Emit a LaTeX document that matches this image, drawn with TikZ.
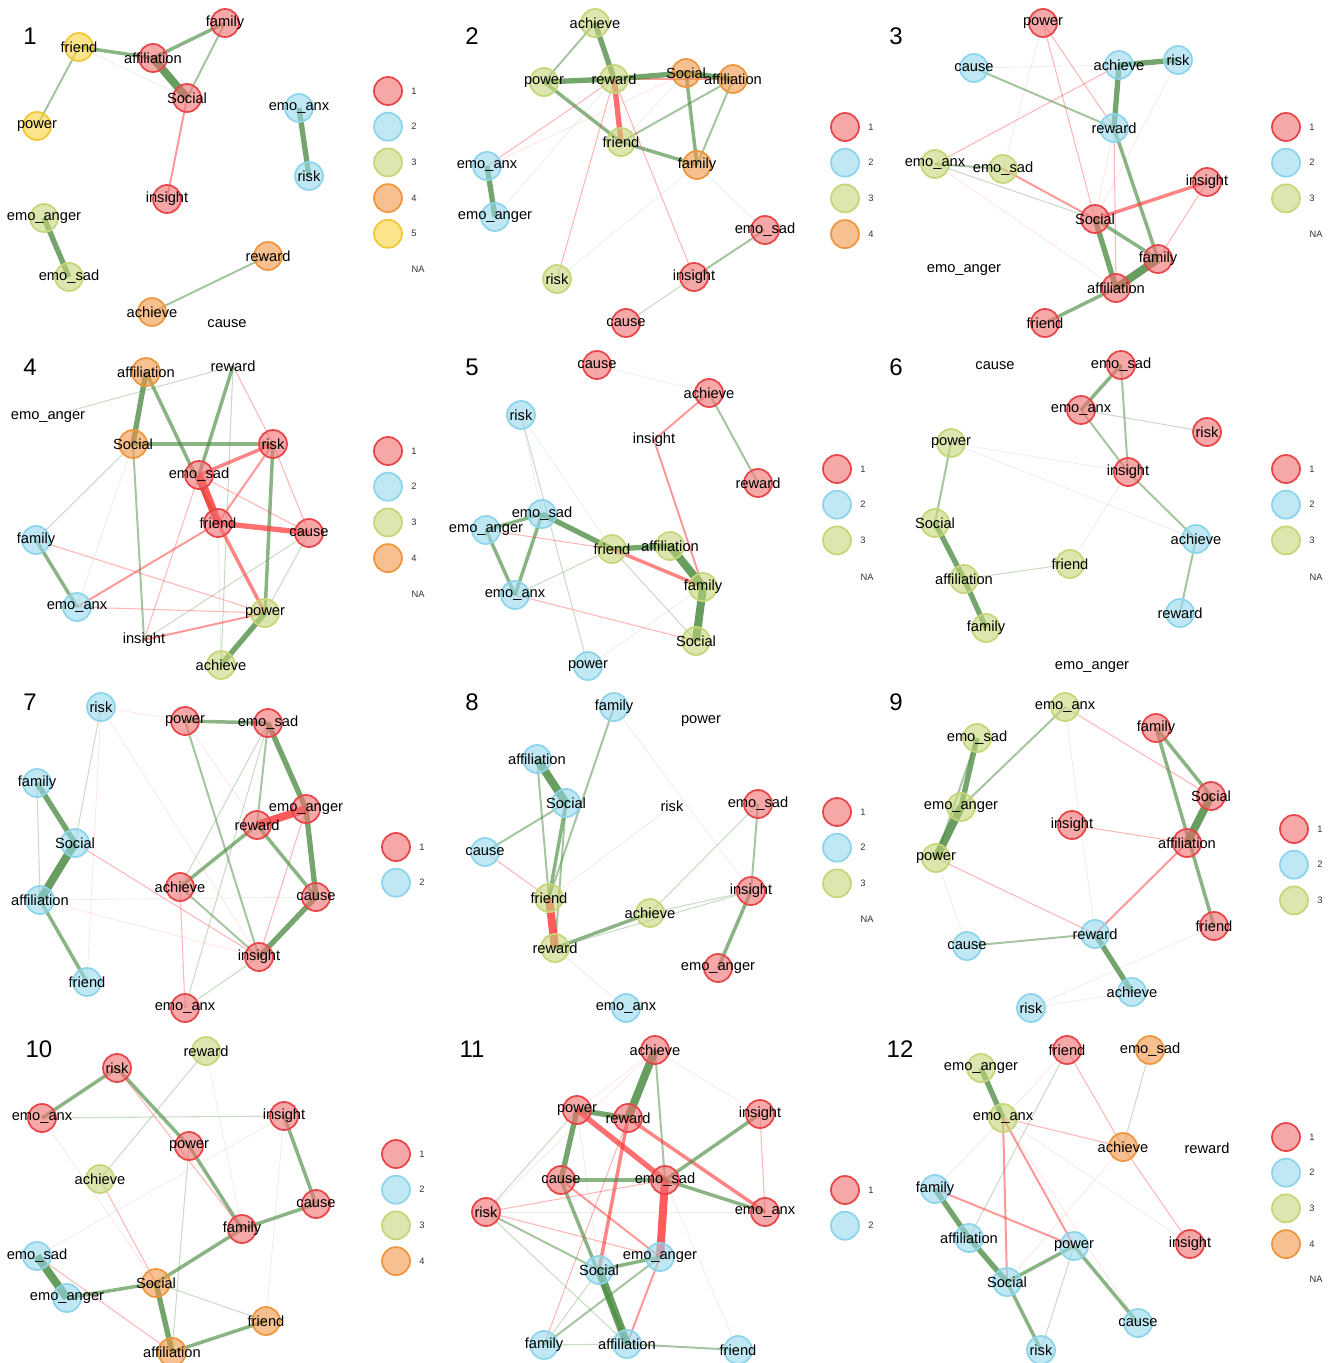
\documentclass[tikz,border=0pt]{standalone}
\usepackage{fontspec}
\setmainfont{Liberation Sans}
\usepackage{tikz}
\usetikzlibrary{backgrounds}
\definecolor{cafill}{RGB}{240,110,112}
\definecolor{caline}{RGB}{232,68,72}
\definecolor{cbfill}{RGB}{150,216,236}
\definecolor{cbline}{RGB}{140,212,235}
\definecolor{ccfill}{RGB}{196,214,120}
\definecolor{ccline}{RGB}{196,214,120}
\definecolor{cdfill}{RGB}{240,150,70}
\definecolor{cdline}{RGB}{238,150,62}
\definecolor{cefill}{RGB}{248,210,60}
\definecolor{celine}{RGB}{242,200,50}
\definecolor{edgegreen}{RGB}{76,140,66}
\definecolor{edgered}{RGB}{255,50,50}
\newcommand{\lbl}[1]{\makebox[0pt]{\expandafter\detokenize\expandafter{#1}}}
\tikzset{
  nd/.style   = {circle, minimum size=21pt, inner sep=0pt, line width=1.3pt, fill opacity=0.6, text opacity=1, font=\fontsize{11}{12}\selectfont},
  c1/.style   = {nd, fill=cafill, draw=caline},
  c2/.style   = {nd, fill=cbfill, draw=cbline},
  c3/.style   = {nd, fill=ccfill, draw=ccline},
  c4/.style   = {nd, fill=cdfill, draw=cdline},
  c5/.style   = {nd, fill=cefill, draw=celine},
  na/.style   = {nd},
  keytxt/.style = {font=\fontsize{7}{8}\selectfont, text=black!80},
  pnum/.style = {font=\fontsize{18}{20}\selectfont},
  g0/.style = {draw=edgegreen, line width=0.5pt, draw opacity=0.15},
  g1/.style = {draw=edgegreen, line width=0.8pt, draw opacity=0.3},
  g2/.style = {draw=edgegreen, line width=1.5pt, draw opacity=0.5},
  g3/.style = {draw=edgegreen, line width=2.6pt, draw opacity=0.65},
  g4/.style = {draw=edgegreen, line width=4pt, draw opacity=0.78},
  g5/.style = {draw=edgegreen, line width=6pt, draw opacity=0.85},
  r0/.style = {draw=edgered, line width=0.5pt, draw opacity=0.15},
  r1/.style = {draw=edgered, line width=0.8pt, draw opacity=0.35},
  r2/.style = {draw=edgered, line width=1.5pt, draw opacity=0.5},
  r3/.style = {draw=edgered, line width=2.6pt, draw opacity=0.6},
  r4/.style = {draw=edgered, line width=4pt, draw opacity=0.7},
  r5/.style = {draw=edgered, line width=6pt, draw opacity=0.8},
}

\begin{document}
\begin{tikzpicture}[x=0.75pt, y=-0.75pt]
  \useasboundingbox (0,0) rectangle (1332,1363);

  % panel 1
  \begin{scope}[shift={(0,0)}, name prefix=p1-]
    \node[pnum] (num) at (30,36) {1};
    \foreach \nm/\cl/\x/\y in {family/c1/225/23, friend/c5/79/47, affiliation/c1/153/58, Social/c1/187/98, power/c5/37/126, emo_anx/c2/299/108, risk/c2/309/176, insight/c1/167/199, emo_anger/c3/44/218, emo_sad/c3/69/277, reward/c4/268/256, achieve/c4/152/312, cause/na/227/324}
      \node[\cl] (\nm) at (\x,\y) {\lbl\nm};
    \begin{scope}[on background layer]
      \foreach \p/\q/\w in {friend/affiliation/g3, affiliation/family/g3, family/Social/g2, affiliation/Social/g5, friend/Social/g0, friend/power/g2, Social/insight/r2, emo_anx/risk/g4, emo_anger/emo_sad/g4, reward/achieve/g2}
        \draw[\w] (\p.center) -- (\q.center);
    \end{scope}
    \foreach \i in {1,...,5} {\node[c\i] (k\i) at (388,{91+35.7*(\i-1)}) {}; \node[keytxt] (kt\i) at (414,{91+35.7*(\i-1)}) {\i};}
    \node[keytxt] (kna) at (418,269) {NA};
  \end{scope}

  % panel 2
  \begin{scope}[shift={(444,0)}, name prefix=p2-]
    \node[pnum] (num) at (28,36) {2};
    \foreach \nm/\cl/\x/\y in {achieve/c3/151/23, power/c3/100/82, reward/c3/170/79, Social/c4/242/73, affiliation/c4/289/79, friend/c3/177/142, family/c4/253/165, emo_anx/c2/43/166, emo_anger/c2/51/217, emo_sad/c1/321/230, insight/c1/250/277, risk/c3/113/279, cause/c1/182/323}
      \node[\cl] (\nm) at (\x,\y) {\lbl\nm};
    \begin{scope}[on background layer]
      \foreach \p/\q/\w in {achieve/reward/g4, achieve/power/g2, power/reward/g4, reward/affiliation/r2, reward/Social/g4, Social/affiliation/g4, reward/friend/r4, power/friend/g3, friend/family/g3, Social/family/g3, affiliation/family/g2, affiliation/friend/g2, Social/friend/g0, reward/emo_anx/r1, Social/emo_anx/r0, reward/emo_anger/g0, emo_anx/emo_anger/g4, reward/risk/r1, reward/insight/r1, family/risk/g0, family/emo_sad/g0, emo_sad/insight/g2, insight/cause/g1}
        \draw[\w] (\p.center) -- (\q.center);
    \end{scope}
    \foreach \i in {1,...,4} {\node[c\i] (k\i) at (401,{127+35.7*(\i-1)}) {}; \node[keytxt] (kt\i) at (427,{127+35.7*(\i-1)}) {\i};}
  \end{scope}

  % panel 3
  \begin{scope}[shift={(888,0)}, name prefix=p3-]
    \node[pnum] (num) at (8,36) {3};
    \foreach \nm/\cl/\x/\y in {power/c1/155/23, cause/c2/86/68, achieve/c2/231/65, risk/c2/290/60, reward/c2/226/128, emo_anx/c3/47/164, emo_sad/c3/115/169, insight/c1/319/182, Social/c1/207/219, family/c1/270/259, affiliation/c1/228/288, friend/c1/157/323, emo_anger/na/76/270}
      \node[\cl] (\nm) at (\x,\y) {\lbl\nm};
    \begin{scope}[on background layer]
      \foreach \p/\q/\w in {achieve/risk/g4, achieve/reward/g4, cause/reward/g2, cause/achieve/g0, power/reward/r1, power/Social/r1, power/emo_sad/r0, achieve/emo_anx/r1, risk/Social/r0, reward/Social/r0, reward/affiliation/r1, reward/family/g3, emo_anx/emo_sad/g2, emo_anx/Social/g1, emo_sad/Social/r2, emo_anx/affiliation/r0, insight/Social/r3, insight/family/r1, Social/family/g3, Social/affiliation/g4, family/affiliation/g5, affiliation/friend/g3}
        \draw[\w] (\p.center) -- (\q.center);
    \end{scope}
    \foreach \i in {1,...,3} {\node[c\i] (k\i) at (398,{127+35.7*(\i-1)}) {}; \node[keytxt] (kt\i) at (424,{127+35.7*(\i-1)}) {\i};}
    \node[keytxt] (kna) at (428,234) {NA};
  \end{scope}

  % panel 4
  \begin{scope}[shift={(0,340)}, name prefix=p4-]
    \node[pnum] (num) at (30,27) {4};
    \foreach \nm/\cl/\x/\y in {affiliation/c4/146/32, reward/na/233/26, emo_anger/na/48/77, Social/c4/133/104, risk/c1/273/104, emo_sad/c1/199/135, friend/c1/218/183, cause/c1/309/193, family/c2/36/200, emo_anx/c2/77/267, power/c3/265/273, insight/na/144/300, achieve/c3/221/325}
      \node[\cl] (\nm) at (\x,\y) {\lbl\nm};
    \begin{scope}[on background layer]
      \foreach \p/\q/\w in {affiliation/Social/g4, emo_anger/reward/g1, affiliation/friend/g3, Social/risk/g3, reward/emo_sad/g3, reward/risk/r1, reward/achieve/g1, emo_sad/friend/r5, emo_sad/risk/r3, risk/friend/r2, risk/power/g3, risk/cause/r1, friend/cause/r4, friend/power/r3, friend/emo_anx/r2, friend/achieve/g0, emo_sad/cause/r1, emo_sad/insight/r1, Social/insight/g2, Social/family/g1, family/emo_anx/g3, family/power/r1, emo_anx/power/r1, power/insight/r2, power/achieve/g4, cause/power/g1, cause/insight/g1, Social/emo_anx/r0}
        \draw[\w] (\p.center) -- (\q.center);
    \end{scope}
    \foreach \i in {1,...,4} {\node[c\i] (k\i) at (388,{111+35.7*(\i-1)}) {}; \node[keytxt] (kt\i) at (414,{111+35.7*(\i-1)}) {\i};}
    \node[keytxt] (kna) at (418,254) {NA};
  \end{scope}

  % panel 5
  \begin{scope}[shift={(444,340)}, name prefix=p5-]
    \node[pnum] (num) at (28,27) {5};
    \foreach \nm/\cl/\x/\y in {cause/c1/153/25, achieve/c1/265/53, risk/c2/77/75, insight/na/210/100, reward/c1/314/143, emo_sad/c2/98/174, emo_anger/c2/42/190, friend/c3/168/209, affiliation/c3/226/206, family/c3/259/247, emo_anx/c2/71/255, Social/c3/252/301, power/c2/144/326}
      \node[\cl] (\nm) at (\x,\y) {\lbl\nm};
    \begin{scope}[on background layer]
      \foreach \p/\q/\w in {cause/achieve/g0, achieve/insight/r2, achieve/reward/g2, insight/family/r2, risk/emo_sad/g0, risk/power/g1, risk/friend/g0, emo_sad/emo_anger/g3, emo_sad/friend/g4, emo_sad/emo_anx/g3, emo_anger/emo_anx/g3, emo_anger/friend/r1, emo_anx/friend/g1, emo_anx/Social/r1, friend/affiliation/g4, friend/family/r3, friend/Social/g1, affiliation/family/g5, family/Social/g5, family/power/g0}
        \draw[\w] (\p.center) -- (\q.center);
    \end{scope}
    \foreach \i in {1,...,3} {\node[c\i] (k\i) at (393,{129+35.7*(\i-1)}) {}; \node[keytxt] (kt\i) at (419,{129+35.7*(\i-1)}) {\i};}
    \node[keytxt] (kna) at (423,237) {NA};
  \end{scope}

  % panel 6
  \begin{scope}[shift={(888,340)}, name prefix=p6-]
    \node[pnum] (num) at (8,27) {6};
    \foreach \nm/\cl/\x/\y in {cause/na/107/26, emo_sad/c1/233/25, emo_anx/c1/193/70, risk/c1/319/92, power/c3/63/103, insight/c1/240/132, Social/c3/47/183, achieve/c2/308/199, friend/c3/182/224, affiliation/c3/76/239, reward/c2/292/273, family/c3/98/288, emo_anger/na/204/327}
      \node[\cl] (\nm) at (\x,\y) {\lbl\nm};
    \begin{scope}[on background layer]
      \foreach \p/\q/\w in {emo_sad/emo_anx/g3, emo_sad/insight/g2, emo_anx/insight/g2, emo_anx/risk/g1, insight/achieve/g2, power/achieve/g0, power/insight/g0, power/Social/g2, insight/friend/r0, Social/affiliation/g4, affiliation/family/g4, affiliation/friend/g1, achieve/reward/g2}
        \draw[\w] (\p.center) -- (\q.center);
    \end{scope}
    \foreach \i in {1,...,3} {\node[c\i] (k\i) at (398,{129+35.7*(\i-1)}) {}; \node[keytxt] (kt\i) at (424,{129+35.7*(\i-1)}) {\i};}
    \node[keytxt] (kna) at (428,237) {NA};
  \end{scope}

  % panel 7
  \begin{scope}[shift={(0,680)}, name prefix=p7-]
    \node[pnum] (num) at (30,22) {7};
    \foreach \nm/\cl/\x/\y in {risk/c2/101/27, power/c1/185/41, emo_sad/c1/268/43, family/c2/37/103, emo_anger/c1/306/129, reward/c1/257/145, Social/c2/75/163, achieve/c1/180/207, affiliation/c2/40/220, cause/c1/316/217, insight/c1/259/277, friend/c2/87/302, emo_anx/c1/185/328}
      \node[\cl] (\nm) at (\x,\y) {\lbl\nm};
    \begin{scope}[on background layer]
      \foreach \p/\q/\w in {power/emo_sad/g3, risk/power/r0, risk/Social/g1, risk/friend/r0, risk/insight/r0, power/insight/g2, power/reward/r0, emo_sad/reward/g2, emo_sad/emo_anger/g4, emo_anger/cause/g4, emo_sad/achieve/g1, emo_sad/emo_anx/g1, emo_anger/reward/r5, emo_anger/insight/r1, reward/achieve/g3, reward/cause/g3, family/Social/g4, family/affiliation/g1, Social/affiliation/g5, Social/insight/r1, affiliation/friend/g3, affiliation/cause/g0, affiliation/insight/r0, achieve/insight/g2, achieve/emo_anx/r1, cause/insight/g4, insight/emo_anx/g1}
        \draw[\w] (\p.center) -- (\q.center);
    \end{scope}
    \foreach \i in {1,2} {\node[c\i] (k\i) at (396,{167+35.7*(\i-1)}) {}; \node[keytxt] (kt\i) at (422,{167+35.7*(\i-1)}) {\i};}
  \end{scope}

  % panel 8
  \begin{scope}[shift={(444,680)}, name prefix=p8-]
    \node[pnum] (num) at (28,22) {8};
    \foreach \nm/\cl/\x/\y in {family/c2/170/27, power/na/257/41, affiliation/c2/93/79, Social/c2/122/123, risk/na/228/126, emo_sad/c1/314/124, cause/c2/41/172, friend/c3/105/218, insight/c1/307/211, achieve/c3/206/233, reward/c3/111/268, emo_anger/c1/274/288, emo_anx/c2/182/328}
      \node[\cl] (\nm) at (\x,\y) {\lbl\nm};
    \begin{scope}[on background layer]
      \foreach \p/\q/\w in {family/friend/g2, family/insight/r0, affiliation/Social/g5, affiliation/friend/g2, Social/friend/g3, Social/reward/g2, Social/cause/g2, cause/friend/r1, friend/reward/r5, friend/risk/r0, reward/achieve/g3, reward/insight/g1, achieve/emo_sad/g1, achieve/insight/g1, reward/emo_anx/r0, emo_sad/insight/g2, insight/emo_anger/g3}
        \draw[\w] (\p.center) -- (\q.center);
    \end{scope}
    \foreach \i in {1,...,3} {\node[c\i] (k\i) at (393,{132+35.7*(\i-1)}) {}; \node[keytxt] (kt\i) at (419,{132+35.7*(\i-1)}) {\i};}
    \node[keytxt] (kna) at (423,239) {NA};
  \end{scope}

  % panel 9
  \begin{scope}[shift={(888,680)}, name prefix=p9-]
    \node[pnum] (num) at (8,22) {9};
    \foreach \nm/\cl/\x/\y in {emo_anx/c3/177/27, emo_sad/c3/89/58, family/c1/268/48, Social/c1/323/116, emo_anger/c3/73/127, insight/c1/184/145, affiliation/c1/299/163, power/c3/48/178, friend/c1/326/246, reward/c2/207/254, cause/c2/79/266, achieve/c2/244/312, risk/c2/143/328}
      \node[\cl] (\nm) at (\x,\y) {\lbl\nm};
    \begin{scope}[on background layer]
      \foreach \p/\q/\w in {emo_sad/emo_anger/g4, emo_anger/power/g5, emo_sad/power/g2, emo_anx/emo_anger/g2, emo_anx/Social/r1, emo_anx/reward/g0, family/Social/g3, family/friend/g3, Social/affiliation/g5, insight/affiliation/r1, affiliation/reward/r2, power/reward/r1, power/cause/g0, cause/reward/g2, reward/achieve/g4, friend/risk/g0, risk/achieve/g0}
        \draw[\w] (\p.center) -- (\q.center);
    \end{scope}
    \foreach \i in {1,...,3} {\node[c\i] (k\i) at (406,{149+35.7*(\i-1)}) {}; \node[keytxt] (kt\i) at (432,{149+35.7*(\i-1)}) {\i};}
  \end{scope}

  % panel 10
  \begin{scope}[shift={(0,1020)}, name prefix=p10-]
    \node[pnum] (num) at (39,29) {10};
    \foreach \nm/\cl/\x/\y in {reward/c3/206/31, risk/c1/117/48, emo_anx/c1/42/98, insight/c1/284/96, power/c1/189/126, achieve/c3/100/159, cause/c1/316/184, family/c1/242/209, emo_sad/c2/37/236, Social/c4/156/263, emo_anger/c2/67/278, friend/c4/266/301, affiliation/c4/172/332}
      \node[\cl] (\nm) at (\x,\y) {\lbl\nm};
    \begin{scope}[on background layer]
      \foreach \p/\q/\w in {risk/emo_anx/g3, risk/power/g3, power/family/g3, risk/family/r1, reward/achieve/g1, reward/family/g0, emo_anx/insight/g1, emo_anx/Social/r0, insight/cause/g3, insight/friend/g0, insight/emo_sad/g0, power/affiliation/g1, achieve/Social/r1, cause/family/g3, family/Social/g3, emo_sad/emo_anger/g5, emo_sad/affiliation/r1, emo_anger/Social/g3, Social/affiliation/g4, Social/friend/g1, friend/affiliation/g3}
        \draw[\w] (\p.center) -- (\q.center);
    \end{scope}
    \foreach \i in {1,...,4} {\node[c\i] (k\i) at (396,{134+35.7*(\i-1)}) {}; \node[keytxt] (kt\i) at (422,{134+35.7*(\i-1)}) {\i};}
  \end{scope}

  % panel 11
  \begin{scope}[shift={(444,1020)}, name prefix=p11-]
    \node[pnum] (num) at (28,29) {11};
    \foreach \nm/\cl/\x/\y in {achieve/c1/211/30, power/c1/133/90, reward/c1/184/98, insight/c1/316/94, cause/c1/117/160, emo_sad/c1/221/160, risk/c1/42/192, emo_anx/c1/321/192, emo_anger/c2/216/237, Social/c2/155/250, family/c2/100/325, affiliation/c2/183/324, friend/c2/294/330}
      \node[\cl] (\nm) at (\x,\y) {\lbl\nm};
    \begin{scope}[on background layer]
      \foreach \p/\q/\w in {achieve/reward/g5, achieve/emo_sad/g2, achieve/insight/g0, achieve/power/r0, achieve/risk/r0, power/reward/g4, power/cause/g4, power/emo_sad/r4, power/risk/g1, power/Social/g0, reward/Social/r3, reward/emo_anx/r3, reward/family/r1, insight/emo_sad/g3, insight/emo_anx/r1, cause/emo_sad/g3, cause/affiliation/g3, cause/emo_anger/r2, emo_sad/emo_anger/r5, emo_sad/emo_anx/g3, emo_sad/risk/r1, emo_sad/friend/r0, risk/emo_anger/r1, risk/Social/g2, risk/affiliation/g1, risk/emo_anx/g0, emo_anger/Social/g3, emo_anger/family/g2, emo_anger/affiliation/r2, Social/affiliation/g5, Social/family/g1, family/affiliation/g1, affiliation/friend/g2}
        \draw[\w] (\p.center) -- (\q.center);
    \end{scope}
    \foreach \i in {1,2} {\node[c\i] (k\i) at (401,{170+35.7*(\i-1)}) {}; \node[keytxt] (kt\i) at (427,{170+35.7*(\i-1)}) {\i};}
  \end{scope}

  % panel 12
  \begin{scope}[shift={(888,1020)}, name prefix=p12-]
    \node[pnum] (num) at (12,29) {12};
    \foreach \nm/\cl/\x/\y in {friend/c1/179/30, emo_sad/c4/262/30, emo_anger/c3/93/48, emo_anx/c3/115/98, achieve/c4/235/127, reward/na/319/128, family/c2/47/169, affiliation/c2/81/218, power/c2/186/226, insight/c1/302/224, Social/c2/119/262, cause/c2/250/303, risk/c2/153/330}
      \node[\cl] (\nm) at (\x,\y) {\lbl\nm};
    \begin{scope}[on background layer]
      \foreach \p/\q/\w in {emo_anger/emo_anx/g4, emo_sad/achieve/g1, friend/achieve/r1, friend/affiliation/g1, friend/emo_anx/r0, emo_anx/achieve/r1, emo_anx/Social/r2, emo_anx/power/r2, emo_anx/family/r0, emo_anx/insight/g0, emo_anx/cause/r0, achieve/insight/r1, achieve/Social/r0, family/power/r2, family/affiliation/g4, affiliation/Social/g4, Social/power/g3, Social/risk/g3, power/risk/g1, power/cause/g3}
        \draw[\w] (\p.center) -- (\q.center);
    \end{scope}
    \foreach \i in {1,...,4} {\node[c\i] (k\i) at (398,{117+35.7*(\i-1)}) {}; \node[keytxt] (kt\i) at (424,{117+35.7*(\i-1)}) {\i};}
    \node[keytxt] (kna) at (428,259) {NA};
  \end{scope}
\end{tikzpicture}
\end{document}
